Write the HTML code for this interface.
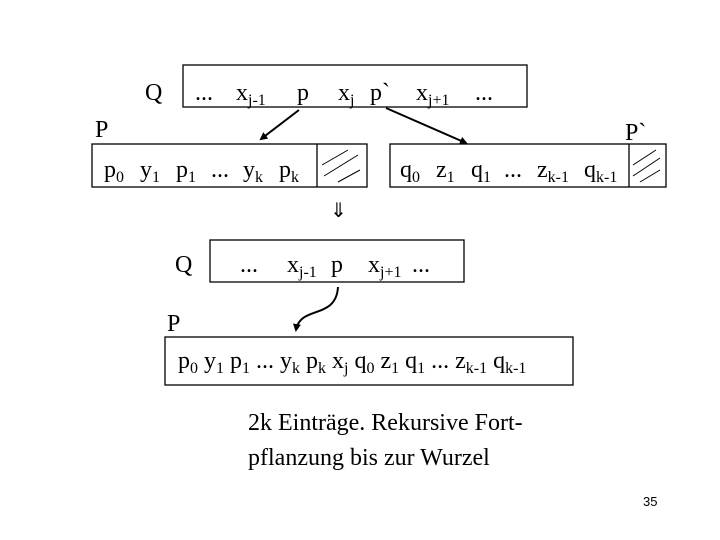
<!DOCTYPE html>
<html><head><meta charset="utf-8"><style>
body{margin:0;background:#fff}
svg{display:block}
text{font-family:"Liberation Serif",serif;font-size:24px;fill:#000}
.s{font-size:16px}
</style></head><body>
<svg width="720" height="540" viewBox="0 0 720 540" xmlns="http://www.w3.org/2000/svg">
<defs><marker id="a" markerWidth="8" markerHeight="8" refX="6" refY="4" orient="auto" markerUnits="userSpaceOnUse"><path d="M0,0 L8,4 L0,8 z" fill="#000"/></marker></defs>
<g fill="none" stroke="#000" stroke-width="1.3">
<rect x="183" y="65" width="344" height="42"/>
<rect x="92" y="144" width="275" height="43"/>
<line x1="317" y1="144" x2="317" y2="187"/>
<rect x="390" y="144" width="276" height="43"/>
<line x1="629" y1="144" x2="629" y2="187"/>
<rect x="210" y="240" width="254" height="42"/>
<rect x="165" y="337" width="408" height="48"/>
<g stroke-width="1">
<line x1="322" y1="165" x2="348" y2="150"/><line x1="324" y1="176" x2="358" y2="155"/><line x1="338" y1="182" x2="360" y2="170"/>
<line x1="633" y1="165" x2="656" y2="150"/><line x1="633" y1="176" x2="660" y2="158"/><line x1="640" y1="182" x2="660" y2="170"/>
</g>
<line x1="299" y1="110" x2="261" y2="139" stroke-width="2" marker-end="url(#a)"/>
<line x1="386" y1="108" x2="466" y2="143" stroke-width="2" marker-end="url(#a)"/>
<path d="M338,287 C336,320 300,305 296,330" stroke-width="2" marker-end="url(#a)"/>
</g>
<text x="145" y="100">Q</text>
<text x="95" y="137">P</text>
<text x="625" y="140">P`</text>
<text x="195" y="100">...</text>
<text x="236" y="100">x<tspan class="s" dy="5">j-1</tspan></text>
<text x="297" y="100">p</text>
<text x="338" y="100">x<tspan class="s" dy="5">j</tspan></text>
<text x="370" y="100">p`</text>
<text x="416" y="100">x<tspan class="s" dy="5">j+1</tspan></text>
<text x="475" y="100">...</text>
<text x="104" y="177">p<tspan class="s" dy="5">0</tspan></text>
<text x="140" y="177">y<tspan class="s" dy="5">1</tspan></text>
<text x="176" y="177">p<tspan class="s" dy="5">1</tspan></text>
<text x="211" y="177">...</text>
<text x="243" y="177">y<tspan class="s" dy="5">k</tspan></text>
<text x="279" y="177">p<tspan class="s" dy="5">k</tspan></text>
<text x="400" y="177">q<tspan class="s" dy="5">0</tspan></text>
<text x="436" y="177">z<tspan class="s" dy="5">1</tspan></text>
<text x="471" y="177">q<tspan class="s" dy="5">1</tspan></text>
<text x="504" y="177">...</text>
<text x="537" y="177">z<tspan class="s" dy="5">k-1</tspan></text>
<text x="584" y="177">q<tspan class="s" dy="5">k-1</tspan></text>
<text x="330" y="217" style="font-family:'DejaVu Sans',sans-serif;font-size:20px">⇓</text>
<text x="175" y="272">Q</text>
<text x="240" y="272">...</text>
<text x="287" y="272">x<tspan class="s" dy="5">j-1</tspan></text>
<text x="331" y="272">p</text>
<text x="368" y="272">x<tspan class="s" dy="5">j+1</tspan></text>
<text x="412" y="272">...</text>
<text x="167" y="331">P</text>
<text x="178" y="368">p<tspan class="s" dy="5">0</tspan><tspan dy="-5"> y</tspan><tspan class="s" dy="5">1</tspan><tspan dy="-5"> p</tspan><tspan class="s" dy="5">1</tspan><tspan dy="-5"> ... y</tspan><tspan class="s" dy="5">k</tspan><tspan dy="-5"> p</tspan><tspan class="s" dy="5">k</tspan><tspan dy="-5"> x</tspan><tspan class="s" dy="5">j</tspan><tspan dy="-5"> q</tspan><tspan class="s" dy="5">0</tspan><tspan dy="-5"> z</tspan><tspan class="s" dy="5">1</tspan><tspan dy="-5"> q</tspan><tspan class="s" dy="5">1</tspan><tspan dy="-5"> ... z</tspan><tspan class="s" dy="5">k-1</tspan><tspan dy="-5"> q</tspan><tspan class="s" dy="5">k-1</tspan></text>
<text x="248" y="430">2k Einträge. Rekursive Fort-</text>
<text x="248" y="465">pflanzung bis zur Wurzel</text>
<text x="643" y="506" style="font-family:'Liberation Sans',sans-serif;font-size:13px">35</text>
</svg>
</body></html>
